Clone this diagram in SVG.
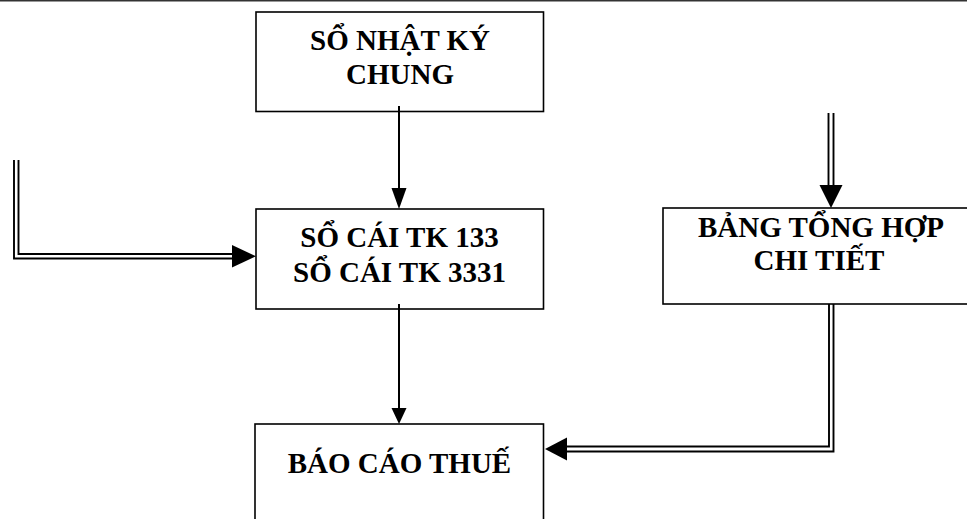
<svg xmlns="http://www.w3.org/2000/svg" width="967" height="519" viewBox="0 0 967 519">
  <style>
    .box { fill: #fff; stroke: #000; stroke-width: 1.6; }
    .lbl { font-family: "Liberation Serif", "Times New Roman", serif; font-weight: bold; font-size: 29px; fill: #000; text-anchor: middle; }
    .single { fill: none; stroke: #000; stroke-width: 2; }
    .dbl { fill: none; stroke: #000; stroke-width: 1.9; }
    .head { fill: #000; stroke: none; }
  </style>

  <!-- page rule along the top edge -->
  <line x1="0" y1="0.8" x2="967" y2="0.8" stroke="#333" stroke-width="1.6"/>

  <g id="node-so-nhat-ky-chung">
    <rect class="box" x="256" y="12" width="287.5" height="99.5"/>
    <text class="lbl" x="400" y="49.5">SỔ NHẬT KÝ</text>
    <text class="lbl" x="400" y="83.5">CHUNG</text>
  </g>

  <g id="node-so-cai">
    <rect class="box" x="256" y="209" width="287.5" height="100"/>
    <text class="lbl" x="399.5" y="246.5">SỔ CÁI TK 133</text>
    <text class="lbl" x="399.5" y="281.5">SỔ CÁI TK 3331</text>
  </g>

  <!-- this box runs on past the right edge of the page -->
  <g id="node-bang-tong-hop">
    <rect class="box" x="663" y="208" width="314" height="96"/>
    <text class="lbl" x="821" y="236.5">BẢNG TỔNG HỢP</text>
    <text class="lbl" x="819" y="269.5">CHI TIẾT</text>
  </g>

  <g id="node-bao-cao-thue">
    <rect class="box" x="255" y="424" width="288.5" height="110"/>
    <text class="lbl" x="399.5" y="472.5">BÁO CÁO THUẾ</text>
  </g>

  <g id="connectors">
    <!-- SỔ NHẬT KÝ CHUNG -> SỔ CÁI -->
    <line class="single" x1="399" y1="106" x2="399" y2="192"/>
    <polygon class="head" points="391.5,188 406.5,188 399,209"/>

    <!-- SỔ CÁI -> BÁO CÁO THUẾ -->
    <line class="single" x1="399" y1="304" x2="399" y2="410"/>
    <polygon class="head" points="391.5,408 406.5,408 399,424"/>

    <!-- double line from the left into SỔ CÁI -->
    <path class="dbl" d="M14,160 V258.5 H236"/>
    <path class="dbl" d="M18.5,160 V254 H236"/>
    <polygon class="head" points="232,245 256,256.3 232,267.5"/>

    <!-- double line from above into BẢNG TỔNG HỢP -->
    <path class="dbl" d="M828.5,113 V190"/>
    <path class="dbl" d="M833.5,113 V190"/>
    <polygon class="head" points="819.5,185 842.5,185 831,208"/>

    <!-- double line from BẢNG TỔNG HỢP into BÁO CÁO THUẾ -->
    <path class="dbl" d="M829,304 V446.5 H563"/>
    <path class="dbl" d="M833.5,304 V451.5 H563"/>
    <polygon class="head" points="567,437.5 545,449 567,460.5"/>
  </g>
</svg>
